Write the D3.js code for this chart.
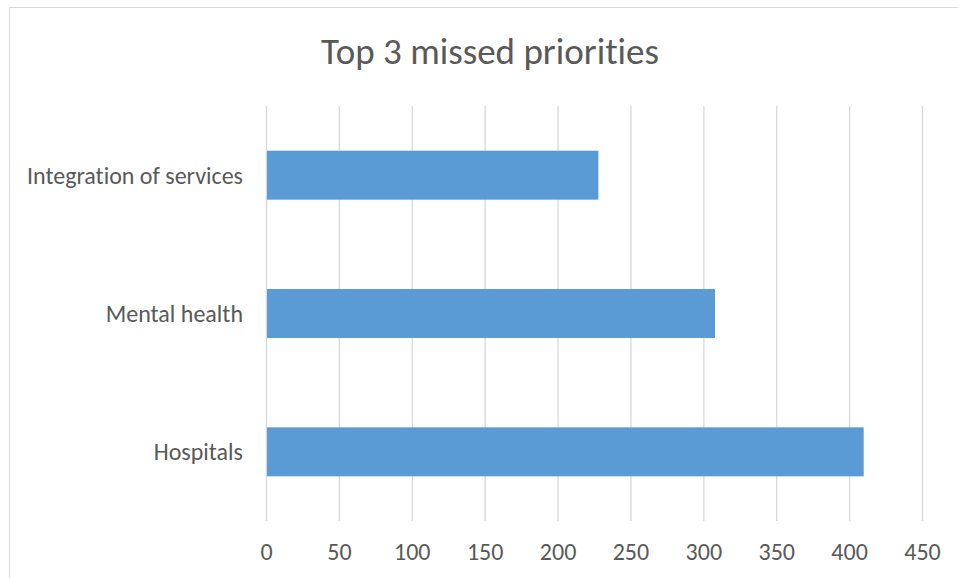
<!DOCTYPE html>
<html>
<head>
<meta charset="utf-8">
<script src="https://cdn.jsdelivr.net/npm/d3@7"></script>
<style>
  body { margin: 0; background: #fff; }
  svg text { font-family: Carlito, "Open Sans", "Noto Sans", sans-serif; fill: #595959; font-variant-ligatures: none; }
</style>
</head>
<body>
<div class="chart-container"></div>
<script>
// chart data
const categories = ["Integration of services", "Mental health", "Hospitals"];
const values = [228, 308, 410];
const xTicks = [0, 50, 100, 150, 200, 250, 300, 350, 400, 450];
const title = "Top 3 missed priorities";

const width = 958;
const height = 578;
const marginTop = 106;
const marginLeft = 266;
const plotRight = 922;
const plotBottom = 521;

const x = d3.scaleLinear()
    .domain([0, 450])
    .range([marginLeft, plotRight]);

const y = d3.scaleBand()
    .domain(categories)
    .range([marginTop, plotBottom])
    .paddingInner(0.646)
    .paddingOuter(0.323);

const svg = d3.select('.chart-container').append("svg")
    .attr("width", width)
    .attr("height", height);

// chart frame
svg.append("rect")
    .attr("x", 9.5)
    .attr("y", 7.5)
    .attr("width", 960)
    .attr("height", 580)
    .attr("fill", "#fff")
    .attr("stroke", "#d9d9d9")
    .attr("stroke-width", 1);

// title
svg.append("text")
    .attr("x", 490)
    .attr("y", 64)
    .attr("text-anchor", "middle")
    .style("font-size", "37px")
    .text(title);

// gridlines + tick labels
const xAxis = svg.append("g")
    .attr("transform", `translate(0,${plotBottom})`)
    .call(d3.axisBottom(x).tickValues(xTicks).tickSize(-(plotBottom - marginTop)).tickPadding(0));

xAxis.select(".domain").remove();
xAxis.selectAll(".tick line")
    .attr("stroke", "#d9d9d9")
    .attr("stroke-width", 1.3);
xAxis.selectAll(".tick text")
    .attr("y", 39)
    .attr("dy", 0)
    .style("font-size", "24px")
    .attr("fill", "#595959");

// category labels
svg.append("g")
    .selectAll("text")
    .data(categories)
    .enter()
    .append("text")
    .attr("x", marginLeft - 23)
    .attr("y", d => y(d) + y.bandwidth() / 2)
    .attr("dy", "0.35em")
    .attr("text-anchor", "end")
    .style("font-size", "24px")
    .text(d => d);

// bars
svg.selectAll('rect.bar')
    .data(values)
    .enter()
    .append('rect')
    .attr('class', 'bar')
    .attr('x', x(0) + 1)
    .attr('y', (d, i) => y(categories[i]))
    .attr('width', d => x(d) - x(0) - 1)
    .attr('height', y.bandwidth())
    .attr('fill', '#5b9bd5');
</script>
</body>
</html>
